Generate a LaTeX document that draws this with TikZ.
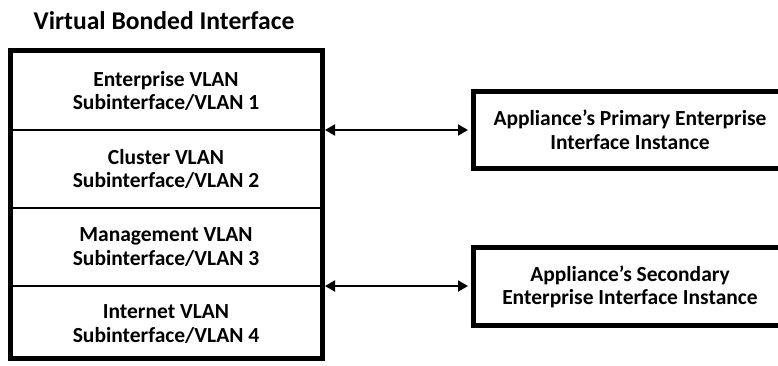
\documentclass[tikz,border=0pt]{standalone}
\usepackage{fontspec}
\setmainfont{Carlito}
\usetikzlibrary{arrows.meta}
\begin{document}
\begin{tikzpicture}[x=1pt,y=-1pt,
  lbl/.style={font=\bfseries\fontsize{21.5}{23.5}\selectfont, align=center, inner sep=0pt},
  heavybox/.style={draw, line width=5pt, inner sep=0pt},
  divider/.style={line width=1.5pt},
  conn/.style={line width=2pt, shorten <=2.5pt, shorten >=2.5pt,
    {Triangle[length=10pt,width=11pt]}-{Triangle[length=10pt,width=11pt]}}]
\useasboundingbox (0,0) rectangle (778,365);
\clip (0,0) rectangle (778,365);
\node[font=\bfseries\fontsize{25.6}{28}\selectfont, inner sep=0pt] (title) at (164,21) {Virtual Bonded Interface};
\node[heavybox, minimum width=312pt, minimum height=308pt] (vbi) at (166.5,204.5) {};
\coordinate (d1) at (322.5,130);
\coordinate (d2) at (322.5,208);
\coordinate (d3) at (322.5,286);
\draw[divider] (vbi.west |- d1) -- (d1);
\draw[divider] (vbi.west |- d2) -- (d2);
\draw[divider] (vbi.west |- d3) -- (d3);
\node[lbl] (r1) at (166,91) {Enterprise VLAN\\Subinterface/VLAN 1};
\node[lbl] (r2) at (166,169) {Cluster VLAN\\Subinterface/VLAN 2};
\node[lbl] (r3) at (166,247) {Management VLAN\\Subinterface/VLAN 3};
\node[lbl] (r4) at (166,324) {Internet VLAN\\Subinterface/VLAN 4};
\node[heavybox, minimum width=314pt, minimum height=77pt] (prim) at (630,130) {};
\node[lbl] (primt) at (630,130) {Appliance’s Primary Enterprise\\Interface Instance};
\node[heavybox, minimum width=314pt, minimum height=78pt] (sec) at (630,286.5) {};
\node[lbl] (sect) at (630,287) {Appliance’s Secondary\\Enterprise Interface Instance};
\draw[conn] (d1) -- (prim.west |- d1);
\draw[conn] (d3) -- (sec.west |- d3);
\end{tikzpicture}
\end{document}
